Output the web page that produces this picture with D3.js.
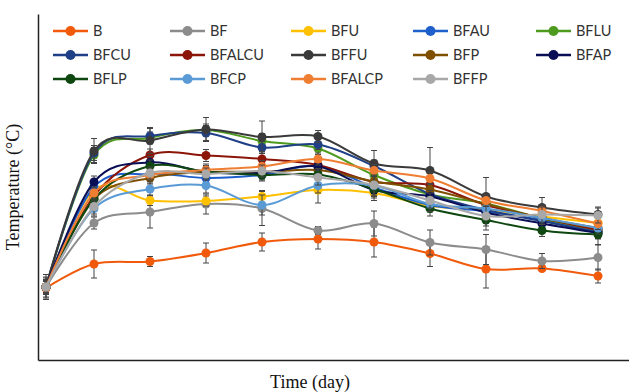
<!DOCTYPE html>
<html><head><meta charset="utf-8">
<script src="https://cdn.jsdelivr.net/npm/d3@7"></script>
<style>body{margin:0;background:#fff}svg{display:block}</style>
</head><body>
<svg id="c" width="629" height="392"></svg>
<script>
const days = [1, 7, 14, 21, 28, 35, 42, 49, 56, 63, 70];
const seriesNames = ["B","BF","BFU","BFAU","BFLU","BFCU","BFALCU","BFFU","BFP","BFAP","BFLP","BFCP","BFALCP","BFFP"];
const seriesColors = ["#F05A0A","#8C8C8C","#FFC000","#1F5FCB","#4E9A1E","#1F3F86","#8B1508","#3A3A3A","#7F4F00","#0A0F55","#0E4710","#5B9BD5","#F07E32","#A8A8A8"];

const valB      = [19.4, 24.2, 24.7, 26.4, 28.6, 29.2, 28.6, 26.3, 23.2, 23.3, 21.8];
const valBF     = [19.6, 32.4, 34.6, 36.2, 35.3, 30.9, 32.3, 28.5, 27.1, 24.8, 25.5];
const valBFU    = [19.6, 39.0, 36.9, 36.8, 37.7, 39.0, 38.4, 35.8, 35.0, 33.7, 32.4];
const valBFAU   = [19.6, 39.6, 42.2, 41.4, 42.0, 43.8, 39.5, 36.0, 34.7, 33.0, 30.7];
const valBFLU   = [19.6, 46.0, 49.4, 51.0, 48.8, 47.3, 42.0, 38.1, 36.3, 33.3, 31.0];
const valBFCU   = [19.6, 46.4, 49.8, 50.4, 47.5, 48.1, 43.8, 38.2, 35.0, 32.8, 30.5];
const valBFALCU = [19.6, 37.8, 46.0, 45.9, 45.2, 44.0, 40.6, 40.0, 36.0, 33.4, 31.0];
const valBFFU   = [19.6, 46.8, 48.9, 51.1, 49.6, 49.7, 44.3, 42.9, 37.7, 35.5, 34.1];
const valBFP    = [19.6, 37.2, 41.4, 42.6, 42.6, 43.0, 40.7, 39.1, 36.2, 33.4, 31.4];
const valBFAP   = [19.6, 40.6, 44.5, 42.6, 42.4, 43.7, 39.0, 37.7, 34.5, 32.3, 30.4];
const valBFLP   = [19.6, 37.2, 43.8, 42.7, 42.0, 42.1, 39.2, 35.3, 33.0, 30.9, 30.1];
const valBFCP   = [19.6, 35.3, 39.2, 39.9, 36.0, 39.9, 39.9, 36.2, 35.3, 33.4, 31.4];
const valBFALCP = [19.6, 38.4, 42.0, 43.0, 43.7, 45.2, 42.9, 41.3, 36.9, 34.8, 32.3];
const valBFFP   = [19.6, 35.7, 42.4, 42.2, 42.8, 41.5, 40.0, 36.9, 33.8, 34.1, 33.9];

const errB      = [2.0, 2.8, 1.0, 2.0, 1.8, 2.0, 3.0, 2.6, 3.8, 0.6, 1.4];
const errBF     = [1.5, 1.2, 3.2, 2.0, 3.4, 0.8, 2.5, 2.5, 3.0, 1.5, 2.5];
const errBFU    = [1.5, 1.0, 1.0, 1.0, 1.2, 2.6, 1.5, 1.2, 1.5, 1.0, 1.2];
const errBFAU   = [1.2, 1.0, 1.2, 1.0, 1.0, 1.0, 1.2, 1.0, 1.2, 1.0, 1.0];
const errBFLU   = [1.2, 1.5, 1.2, 1.2, 1.5, 1.2, 1.5, 1.5, 1.2, 1.0, 1.2];
const errBFCU   = [1.5, 1.5, 1.5, 1.5, 1.2, 1.0, 1.2, 1.2, 1.2, 1.2, 1.2];
const errBFALCU = [1.2, 1.2, 1.2, 1.2, 1.5, 1.2, 1.2, 1.2, 1.2, 1.2, 1.2];
const errBFFU   = [2.0, 2.5, 2.6, 2.4, 3.2, 1.2, 2.6, 4.6, 3.8, 2.0, 1.5];
const errBFP    = [1.2, 1.2, 1.2, 1.2, 1.2, 1.2, 1.5, 1.2, 1.2, 1.2, 1.2];
const errBFAP   = [1.2, 1.2, 1.2, 1.2, 1.2, 1.2, 1.2, 1.2, 1.5, 1.2, 1.2];
const errBFLP   = [1.2, 1.2, 1.2, 1.2, 1.2, 1.2, 1.5, 1.5, 2.0, 1.2, 2.0];
const errBFCP   = [1.2, 1.5, 1.2, 1.5, 2.0, 1.5, 2.5, 1.5, 1.5, 1.2, 1.2];
const errBFALCP = [1.2, 1.2, 1.2, 1.2, 1.2, 1.2, 1.2, 1.2, 1.2, 1.2, 1.2];
const errBFFP   = [2.5, 1.5, 1.2, 1.2, 1.2, 1.5, 2.0, 1.5, 2.0, 1.5, 1.5];

const values = [valB,valBF,valBFU,valBFAU,valBFLU,valBFCU,valBFALCU,valBFFU,valBFP,valBFAP,valBFLP,valBFCP,valBFALCP,valBFFP];
const errors = [errB,errBF,errBFU,errBFAU,errBFLU,errBFCU,errBFALCU,errBFFU,errBFP,errBFAP,errBFLP,errBFCP,errBFALCP,errBFFP];

const xTitle = "Time (day)";
const yTitle = "Temperature (°C)";

const svg = d3.select("#c");
const x = d3.scaleLinear().domain([0, 74]).range([38, 630]);
const y = d3.scaleLinear().domain([5, 74.2]).range([360, 14]);

// axes (no ticks)
svg.append("g").attr("transform","translate(0,360)")
  .call(d3.axisBottom(x).tickValues([]).tickSizeOuter(0))
  .call(g=>g.select(".domain").attr("stroke","#222").attr("stroke-width",1.5));
svg.append("g").attr("transform","translate(38,0)")
  .call(d3.axisLeft(y).tickValues([]).tickSizeOuter(0))
  .call(g=>g.select(".domain").attr("stroke","#222").attr("stroke-width",1.5));

const line = d3.line().x((d,i)=>x(days[i])).y(d=>y(d)).curve(d3.curveCardinal.tension(0));

const plot = svg.append("g");
seriesNames.forEach((name, s) => {
  const g = plot.append("g");
  // error bars
  values[s].forEach((v,i)=>{
    const e = errors[s][i], cx = x(days[i]);
    g.append("line").attr("x1",cx).attr("x2",cx).attr("y1",y(v+e)).attr("y2",y(v-e)).attr("stroke","#444").attr("stroke-width",1);
    [v+e, v-e].forEach(t=>g.append("line").attr("x1",cx-3).attr("x2",cx+3).attr("y1",y(t)).attr("y2",y(t)).attr("stroke","#444").attr("stroke-width",1));
  });
  g.append("path").datum(values[s]).attr("d", line).attr("fill","none")
    .attr("stroke", seriesColors[s]).attr("stroke-width",2);
  g.selectAll("circle").data(values[s]).join("circle")
    .attr("cx",(d,i)=>x(days[i])).attr("cy",d=>y(d)).attr("r",4.5).attr("fill",seriesColors[s]);
});

// legend
const legX = [53, 170, 291, 413, 536];
const legY = [31, 55, 79];
seriesNames.forEach((name,s)=>{
  const lx = legX[s%5], ly = legY[Math.floor(s/5)];
  const g = svg.append("g");
  g.append("line").attr("x1",lx).attr("x2",lx+35).attr("y1",ly).attr("y2",ly).attr("stroke",seriesColors[s]).attr("stroke-width",2.5);
  g.append("circle").attr("cx",lx+17.5).attr("cy",ly).attr("r",5).attr("fill",seriesColors[s]);
  g.append("text").attr("x",lx+40).attr("y",ly+5).attr("font-family","Lato, 'Noto Sans', sans-serif").attr("font-size",14.5).attr("fill","#333").text(name);
});

svg.append("text").attr("x",310).attr("y",388).attr("text-anchor","middle")
  .attr("font-family","'Liberation Serif','Times New Roman',serif").attr("font-size",18).attr("fill","#111").text(xTitle);
svg.append("text").attr("transform","translate(19,187) rotate(-90)").attr("text-anchor","middle")
  .attr("font-family","'Liberation Serif','Times New Roman',serif").attr("font-size",18).attr("fill","#111").text(yTitle);
</script>
</body></html>
